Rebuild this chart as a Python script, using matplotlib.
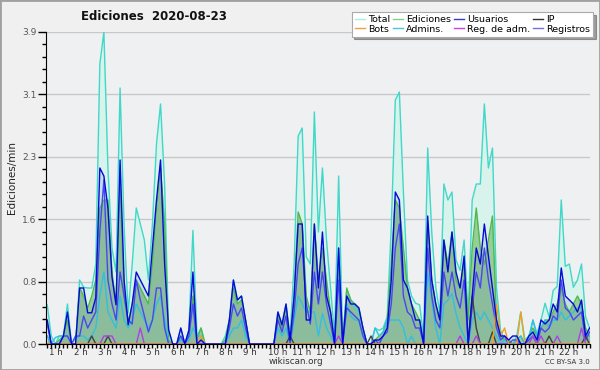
import numpy as np
import matplotlib.pyplot as plt
from matplotlib.lines import Line2D
from matplotlib.patches import Rectangle
import matplotlib.transforms as mtransforms

# Ediciones por minuto, tramos de 10 minutos desde la 1 h (6 valores por hora)
total = [
    0.49, 0.1, 0.0, 0.1, 0.1, 0.5,
    0.0, 0.0, 0.8, 0.71, 0.7, 0.7,
    1.0, 3.5, 3.9, 2.2, 1.2, 0.9,
    3.2, 1.46, 0.39, 1.0, 1.7, 1.5,
    1.3, 0.8, 1.5, 2.5, 3.0, 2.0,
    0.14, 0.0, 0.0, 0.2, 0.0, 0.18,
    1.42, 0.1, 0.2, 0.0, 0.0, 0.0,
    0.0, 0.0, 0.1, 0.3, 0.8, 0.55,
    0.6, 0.3, 0.0, 0.0, 0.0, 0.0,
    0.0, 0.0, 0.0, 0.4, 0.25, 0.5,
    0.1, 1.0, 2.6, 2.7, 1.09, 1.0,
    2.9, 1.4, 2.2, 1.3, 0.7, 0.1,
    2.1, 0.05, 0.67, 0.55, 0.46, 0.39,
    0.2, 0.0, 0.0, 0.2, 0.17, 0.2,
    0.34, 1.46, 3.05, 3.15, 1.9, 0.8,
    0.6, 0.51, 0.49, 0.09, 2.45, 1.4,
    0.71, 0.38, 2.0, 1.8, 1.9, 1.05,
    0.92, 1.3, 0.34, 1.8, 2.0, 2.0,
    3.0, 2.2, 2.45, 0.7, 0.17, 0.05,
    0.05, 0.0, 0.1, 0.4, 0.05, 0.1,
    0.3, 0.13, 0.3, 0.51, 0.34, 0.67,
    0.72, 1.8, 0.97, 1.0, 0.71, 0.8,
    1.0, 0.34, 0.2,
]
ediciones = [
    0.1, 0.0, 0.0, 0.05, 0.1, 0.3,
    0.0, 0.0, 0.7, 0.6, 0.45, 0.6,
    0.8, 1.7, 1.8, 1.8, 0.9, 0.5,
    2.0, 0.6, 0.25, 0.5, 0.8, 0.7,
    0.6, 0.5, 1.0, 1.7, 2.2, 1.5,
    0.05, 0.0, 0.0, 0.1, 0.0, 0.1,
    0.6, 0.05, 0.2, 0.0, 0.0, 0.0,
    0.0, 0.0, 0.05, 0.3, 0.7, 0.5,
    0.55, 0.3, 0.0, 0.0, 0.0, 0.0,
    0.0, 0.0, 0.0, 0.35, 0.2, 0.45,
    0.05, 0.6, 1.65, 1.5, 0.6, 0.4,
    1.5, 0.8, 1.2, 0.8, 0.4, 0.05,
    1.0, 0.0, 0.7, 0.55, 0.5, 0.45,
    0.2, 0.0, 0.0, 0.05, 0.1, 0.15,
    0.3, 1.0, 1.8, 1.7, 1.2, 0.7,
    0.5, 0.4, 0.3, 0.0, 1.5, 0.8,
    0.5, 0.3, 1.3, 1.0, 1.4, 0.8,
    0.7, 1.0, 0.3, 1.2, 1.7, 1.2,
    1.0, 1.3, 1.6, 0.3, 0.1, 0.05,
    0.05, 0.0, 0.05, 0.1, 0.0, 0.1,
    0.2, 0.1, 0.2, 0.3, 0.3, 0.4,
    0.5, 0.7, 0.5, 0.4, 0.5, 0.6,
    0.5, 0.2, 0.1,
]
usuarios = [
    0.3, 0.0, 0.0, 0.0, 0.1, 0.4,
    0.0, 0.0, 0.7, 0.7, 0.39, 0.39,
    0.58, 2.2, 2.1, 1.7, 0.84, 0.49,
    2.3, 0.8, 0.24, 0.5, 0.9, 0.8,
    0.7, 0.6, 1.2, 1.8, 2.3, 1.0,
    0.18, 0.0, 0.0, 0.2, 0.0, 0.17,
    0.9, 0.0, 0.05, 0.0, 0.0, 0.0,
    0.0, 0.0, 0.0, 0.3, 0.8, 0.55,
    0.6, 0.3, 0.0, 0.0, 0.0, 0.0,
    0.0, 0.0, 0.0, 0.4, 0.24, 0.5,
    0.05, 0.6, 1.5, 1.5, 0.3, 0.3,
    1.5, 0.7, 1.4, 0.6, 0.4, 0.0,
    1.2, 0.0, 0.6, 0.5, 0.5, 0.45,
    0.2, 0.0, 0.0, 0.05, 0.05, 0.1,
    0.2, 0.8, 1.9, 1.8, 0.8, 0.7,
    0.5, 0.3, 0.3, 0.0, 1.6, 0.8,
    0.5, 0.3, 1.3, 0.9, 1.4, 0.9,
    0.7, 1.1, 0.0, 0.6, 1.2, 1.0,
    1.5, 1.1, 0.7, 0.3, 0.1, 0.1,
    0.05, 0.1, 0.1, 0.0, 0.0, 0.1,
    0.15, 0.05, 0.3, 0.25, 0.3, 0.5,
    0.4, 0.95, 0.6, 0.55, 0.5, 0.4,
    0.55, 0.1, 0.2,
]
registros = [
    0.25, 0.0, 0.0, 0.0, 0.1, 0.1,
    0.0, 0.1, 0.1, 0.35, 0.2, 0.3,
    0.4, 1.4, 2.05, 0.8, 0.5, 0.3,
    0.9, 0.6, 0.3, 0.25, 0.8, 0.55,
    0.35, 0.15, 0.3, 0.7, 0.7, 0.2,
    0.0, 0.0, 0.0, 0.1, 0.0, 0.1,
    0.5, 0.0, 0.0, 0.0, 0.0, 0.0,
    0.0, 0.0, 0.0, 0.2, 0.5, 0.35,
    0.45, 0.2, 0.0, 0.0, 0.0, 0.0,
    0.0, 0.0, 0.0, 0.3, 0.15, 0.35,
    0.0, 0.4, 1.0, 1.2, 0.5, 0.25,
    0.9, 0.5, 0.9, 0.5, 0.25, 0.0,
    0.8, 0.0, 0.45, 0.4, 0.35, 0.3,
    0.1, 0.0, 0.0, 0.05, 0.0, 0.1,
    0.15, 0.5, 1.2, 1.5, 0.6, 0.4,
    0.35, 0.2, 0.2, 0.0, 1.2, 0.6,
    0.3, 0.2, 0.9, 0.6, 0.9, 0.6,
    0.45, 0.8, 0.0, 0.45, 0.9, 0.7,
    1.2, 0.8, 0.5, 0.2, 0.05, 0.1,
    0.0, 0.05, 0.05, 0.0, 0.0, 0.05,
    0.1, 0.0, 0.2, 0.15, 0.2, 0.35,
    0.3, 0.8, 0.45, 0.4, 0.3, 0.35,
    0.4, 0.05, 0.15,
]
admins = [
    0.1, 0.0, 0.08, 0.1, 0.1, 0.1,
    0.0, 0.07, 0.1, 0.1, 0.05, 0.1,
    0.2, 0.6, 0.9, 0.4, 0.3, 0.2,
    0.6, 0.3, 0.2, 0.3, 0.5, 0.4,
    0.3, 0.2, 0.3, 0.5, 0.6, 0.3,
    0.0, 0.0, 0.0, 0.05, 0.0, 0.05,
    0.2, 0.1, 0.1, 0.0, 0.0, 0.0,
    0.0, 0.0, 0.0, 0.1, 0.2, 0.2,
    0.3, 0.1, 0.0, 0.0, 0.0, 0.0,
    0.0, 0.0, 0.0, 0.2, 0.1, 0.2,
    0.0, 0.3, 0.6, 0.5, 0.4, 0.4,
    0.4, 0.1, 0.38, 0.2, 0.1, 0.0,
    1.2, 0.0, 0.5, 0.35, 0.3, 0.3,
    0.1, 0.0, 0.0, 0.2, 0.1, 0.15,
    0.3, 0.3, 0.3, 0.3, 0.2, 0.0,
    0.1, 0.0, 0.0, 0.0, 0.88, 0.55,
    0.2, 0.0, 0.5, 0.55, 0.63, 0.38,
    0.2, 0.1, 0.0, 0.3, 0.4, 0.3,
    0.4, 0.3, 0.2, 0.1, 0.0, 0.05,
    0.0, 0.0, 0.05, 0.1, 0.0, 0.05,
    0.3, 0.1, 0.2, 0.3, 0.2, 0.3,
    0.3, 0.4, 0.3, 0.35, 0.4, 0.45,
    0.46, 0.1, 0.1,
]
ip = [
    0, 0, 0, 0, 0, 0,
    0, 0, 0, 0, 0, 0.1,
    0, 0, 0, 0.1, 0, 0,
    0, 0, 0, 0, 0, 0,
    0, 0, 0, 0, 0, 0,
    0, 0, 0, 0, 0, 0,
    0, 0, 0, 0, 0, 0,
    0, 0, 0, 0, 0, 0,
    0, 0, 0, 0, 0, 0,
    0, 0, 0, 0, 0, 0,
    0.1, 0, 0, 0, 0, 0,
    0, 0, 0, 0, 0, 0,
    0, 0, 0, 0, 0, 0,
    0, 0, 0.1, 0, 0, 0,
    0, 0, 0, 0, 0, 0,
    0, 0, 0, 0, 0, 0,
    0, 0, 0, 0, 0, 0,
    0, 0, 0, 0.6, 0.2, 0,
    0, 0, 0.15, 0, 0, 0,
    0, 0, 0, 0, 0, 0,
    0, 0, 0, 0, 0.1, 0,
    0, 0, 0, 0, 0, 0,
    0, 0.1, 0,
]
bots = [0] * 38 + [0.1] + [0] * 72 + [0.5, 0.1, 0.2, 0, 0, 0, 0.4] + [0] * 17
reg_adm = [
    0, 0, 0, 0, 0, 0,
    0, 0, 0, 0, 0, 0,
    0, 0, 0.1, 0.1, 0.1, 0,
    0, 0, 0, 0, 0, 0.2,
    0, 0, 0, 0, 0, 0,
    0, 0, 0, 0, 0, 0,
    0, 0, 0, 0, 0, 0,
    0, 0, 0, 0, 0, 0,
    0, 0, 0, 0, 0, 0,
    0, 0, 0, 0, 0, 0,
    0, 0, 0, 0, 0, 0,
    0, 0, 0, 0, 0, 0,
    0.1, 0, 0, 0, 0, 0,
    0, 0, 0, 0, 0, 0,
    0, 0, 0, 0, 0, 0,
    0, 0, 0, 0, 0, 0,
    0, 0, 0, 0, 0, 0,
    0.1, 0, 0, 0, 0.1, 0,
    0, 0, 0, 0, 0, 0,
    0, 0, 0, 0, 0, 0,
    0.1, 0, 0.1, 0, 0, 0,
    0.1, 0, 0, 0, 0, 0,
    0.2, 0, 0,
]

horas = 1 + np.arange(len(total)) / 6
yticks = np.linspace(0, 3.9, 6)
ylabels = ['0.0', '0.8', '1.6', '2.3', '3.1', '3.9']

fig = plt.figure(figsize=(6, 3.7), dpi=100, facecolor='#f0f0f0')
ax = fig.add_axes([46 / 600, 26 / 370, 544 / 600, 312 / 370])
ax.set_facecolor('#eff0f2')

# rellenos
ax.fill_between(horas, total, color='#d8f3ec', lw=0)
ax.fill_between(horas, ediciones, color='#98cd98', lw=0)
ax.fill_between(horas, usuarios, color='#2030c0', alpha=0.1, lw=0)

# lineas
ax.plot(horas, total, color='#40d8c8', lw=1)
ax.plot(horas, ediciones, color='#50b850', lw=1)
ax.plot(horas, admins, color='#30c0e0', lw=1)
ax.plot(horas, registros, color='#4848f0', lw=1)
ax.plot(horas, ip, color='#404040', lw=1)
ax.plot(horas, reg_adm, color='#b040e0', lw=1)
ax.plot(horas, bots, color='#f0a020', lw=1)
ax.plot(horas, usuarios, color='#0808d8', lw=1)

ax.set_xlim(0.95, 23.35)
ax.set_ylim(0, 3.9)
ax.set_yticks(yticks)
ax.set_yticklabels(ylabels)
ax.set_yticks(np.arange(0, 3.91, 0.156), minor=True)
ax.set_xticks(np.arange(1, 23))
ax.set_xticklabels([f'{h} h' for h in range(1, 23)])
ax.set_xticks(np.arange(1, 23.35, 1 / 6), minor=True)
ax.tick_params(axis='y', which='major', length=6, width=1, labelsize=6.5,
               labelcolor='#555555', pad=1)
ax.tick_params(axis='y', which='minor', length=3, width=1)
ax.tick_params(axis='x', which='both', length=3, width=1, labelsize=6.3,
               labelcolor='#333333', pad=0)
offset = mtransforms.ScaledTranslation(2 / 100, 0, fig.dpi_scale_trans)
for lab in ax.get_xticklabels():
    lab.set_horizontalalignment('left')
    lab.set_transform(lab.get_transform() + offset)

ax.yaxis.grid(True, color='#c8c8c8', lw=1)
ax.set_axisbelow(True)
for s in ['top', 'right']:
    ax.spines[s].set_visible(False)
ax.spines['left'].set_color('black')
ax.spines['bottom'].set_color('black')

fig.text(154 / 600, 1 - 16 / 370, 'Ediciones  2020-08-23', ha='center',
         va='center', fontsize=8.5, fontweight='bold', color='#111111')
fig.text(12 / 600, 1 - 178 / 370, 'Ediciones/min', rotation=90, ha='center',
         va='center', fontsize=7.5, color='#222222')
fig.text(296 / 600, 1 - 362 / 370, 'wikiscan.org', ha='center', va='center',
         fontsize=6.3, color='#333333')
fig.text(590 / 600, 1 - 362 / 370, 'CC BY-SA 3.0', ha='right', va='center',
         fontsize=5, color='#333333')

nombres = ['Total', 'Bots', 'Ediciones', 'Admins.', 'Usuarios', 'Reg. de adm.',
           'IP', 'Registros']
colores = ['#a8ece2', '#f0a040', '#88d088', '#40c8e0', '#3838d0', '#d040e0',
           '#333333', '#7070e8']
handles = [Line2D([], [], color=c, lw=1) for c in colores]
leg = fig.legend(handles, nombres, ncol=4, loc='upper right',
                 bbox_to_anchor=(593 / 600, 1 - 12 / 370), fontsize=6.8,
                 frameon=True, fancybox=False, shadow=True, framealpha=1,
                 edgecolor='#aaaaaa', handlelength=1.1, handletextpad=0.3,
                 columnspacing=0.3, labelspacing=0.1, borderpad=0.3,
                 borderaxespad=0)
leg.get_frame().set_linewidth(0.8)

fig.patches.append(Rectangle((0, 0), 1, 1, transform=fig.transFigure,
                             fill=False, edgecolor='#a0a0a0', lw=2))

fig.savefig('out.png', dpi=100, facecolor=fig.get_facecolor())
